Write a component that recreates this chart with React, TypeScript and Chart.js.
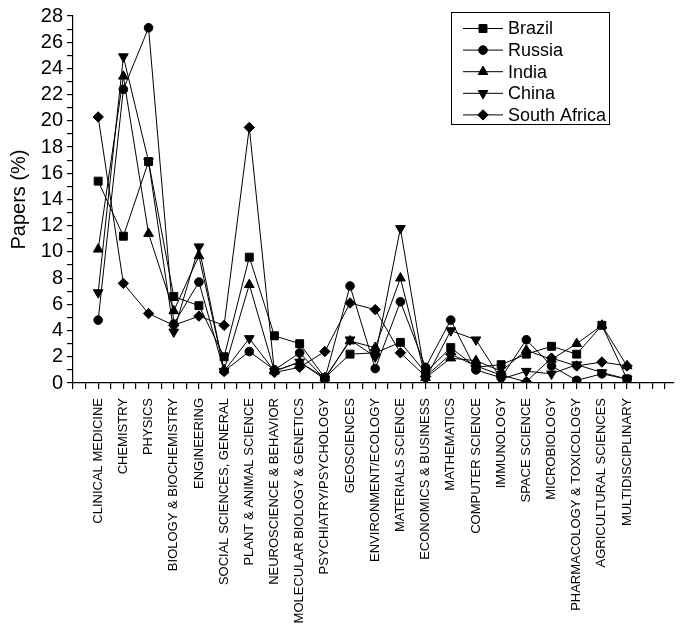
import React, { useEffect, useRef } from "react";
import { Chart, registerables } from "chart.js";
import { drawPoint } from "chart.js/helpers";

Chart.register(...registerables);

// Subject fields along the x axis
const categories = [
  "CLINICAL MEDICINE",
  "CHEMISTRY",
  "PHYSICS",
  "BIOLOGY & BIOCHEMISTRY",
  "ENGINEERING",
  "SOCIAL SCIENCES, GENERAL",
  "PLANT & ANIMAL SCIENCE",
  "NEUROSCIENCE & BEHAVIOR",
  "MOLECULAR BIOLOGY & GENETICS",
  "PSYCHIATRY/PSYCHOLOGY",
  "GEOSCIENCES",
  "ENVIRONMENT/ECOLOGY",
  "MATERIALS SCIENCE",
  "ECONOMICS & BUSINESS",
  "MATHEMATICS",
  "COMPUTER SCIENCE",
  "IMMUNOLOGY",
  "SPACE SCIENCE",
  "MICROBIOLOGY",
  "PHARMACOLOGY & TOXICOLOGY",
  "AGRICULTURAL SCIENCES",
  "MULTIDISCIPLINARY",
];

// Share of each country's papers per field (%)
const brazil = [15.4, 11.2, 16.9, 6.6, 5.9, 2.0, 9.6, 3.6, 3.0, 0.4, 2.2, 2.3, 3.1, 0.8, 2.7, 1.2, 1.4, 2.2, 2.8, 2.2, 4.4, 0.3];
const russia = [4.8, 22.4, 27.1, 4.5, 7.7, 0.9, 2.4, 1.0, 2.3, 0.3, 7.4, 1.1, 6.2, 1.2, 4.8, 1.0, 0.4, 3.3, 1.3, 0.2, 0.7, 0.3];
const india = [10.2, 23.4, 11.4, 5.5, 9.7, 1.0, 7.5, 0.9, 1.6, 0.4, 3.2, 2.7, 8.0, 0.4, 1.9, 1.7, 0.9, 2.5, 1.8, 3.0, 4.4, 1.3];
const china = [6.9, 24.9, 16.9, 3.9, 10.4, 0.9, 3.4, 0.9, 1.6, 0.3, 3.3, 2.0, 11.8, 0.3, 4.0, 3.3, 0.3, 0.9, 0.7, 1.4, 0.8, 0.3];
const southAfrica = [20.3, 7.6, 5.3, 4.4, 5.1, 4.4, 19.5, 0.8, 1.2, 2.4, 6.1, 5.6, 2.3, 0.5, 2.2, 1.3, 0.6, 0.1, 1.9, 1.3, 1.6, 1.3];

const seriesNames = ["Brazil", "Russia", "India", "China", "South Africa"];
const seriesValues = [brazil, russia, india, china, southAfrica];

// y axis: 0..28, labelled every 2
const yMin = 0;
const yMax = 28;

const FONT = "'Liberation Sans', Arial, Helvetica, sans-serif";

const markers = [
  { pointStyle: "rect", radius: 5.6, rotation: 0 },
  { pointStyle: "circle", radius: 4.3, rotation: 0 },
  { pointStyle: "triangle", radius: 5.6, rotation: 0 },
  { pointStyle: "triangle", radius: 5.6, rotation: 180 },
  { pointStyle: "rectRot", radius: 5.2, rotation: 0 },
];

// Boxed legend with a line through each marker
const boxLegend = {
  id: "boxLegend",
  afterDraw(chart: any) {
    const ctx = chart.ctx as CanvasRenderingContext2D;
    const x0 = 451.5;
    const y0 = 12.5;
    const w = 158;
    const h = 112;
    ctx.save();
    ctx.fillStyle = "#fff";
    ctx.fillRect(x0, y0, w, h);
    ctx.strokeStyle = "#000";
    ctx.lineWidth = 1;
    ctx.strokeRect(x0, y0, w, h);
    ctx.font = `18px ${FONT}`;
    ctx.textBaseline = "middle";
    ctx.textAlign = "left";
    chart.data.datasets.forEach((ds: any, i: number) => {
      const cy = 28.5 + i * 21.6;
      ctx.strokeStyle = "#000";
      ctx.lineWidth = 1;
      ctx.beginPath();
      ctx.moveTo(463, cy);
      ctx.lineTo(503, cy);
      ctx.stroke();
      ctx.fillStyle = "#000";
      const m = markers[i];
      drawPoint(ctx, { pointStyle: m.pointStyle, radius: m.radius, rotation: m.rotation, borderWidth: 1 } as any, 483, cy);
      ctx.fillStyle = "#000";
      ctx.fillText(ds.label, 508, cy + 1);
    });
    ctx.restore();
  },
};

export default function App() {
  const canvasRef = useRef<HTMLCanvasElement | null>(null);

  useEffect(() => {
    document.body.style.margin = "0";
    const canvas = canvasRef.current;
    if (!canvas) return;

    const datasets = seriesValues.map((vals, i) => ({
      label: seriesNames[i],
      data: vals.map((v, j) => ({ x: j + 1, y: v })),
      borderColor: "#000",
      backgroundColor: "#000",
      borderWidth: 1,
      pointStyle: markers[i].pointStyle,
      rotation: markers[i].rotation,
      pointRadius: markers[i].radius,
      pointBackgroundColor: "#000",
      pointBorderColor: "#000",
      pointBorderWidth: 1,
      tension: 0,
      fill: false,
    }));

    const chart = new Chart(canvas, {
      type: "line",
      data: { datasets },
      plugins: [boxLegend],
      options: {
        responsive: false,
        animation: false,
        events: [],
        layout: { padding: { top: 12, left: 0, right: 0, bottom: 0 } },
        plugins: {
          legend: { display: false },
          tooltip: { enabled: false },
        },
        scales: {
          x: {
            type: "linear",
            min: 0,
            max: 23.84,
            border: { display: true, color: "#000", width: 1.2 },
            grid: { drawOnChartArea: false, drawTicks: true, tickLength: 6, color: "#000", lineWidth: 1.2 },
            ticks: {
              stepSize: 0.5,
              includeBounds: false,
              autoSkip: false,
              minRotation: 90,
              maxRotation: 90,
              padding: 9,
              color: "#000",
              font: { family: FONT, size: 13 },
              callback: (v: any) => {
                const n = Number(v);
                const r = Math.round(n);
                if (Math.abs(n - r) < 1e-6 && r >= 1 && r <= categories.length) return categories[r - 1];
                return "";
              },
            },
            afterFit: (scale: any) => {
              scale.height = 242;
              scale.paddingLeft = 0;
              scale.paddingRight = 0;
            },
          },
          y: {
            type: "linear",
            min: yMin,
            max: yMax,
            border: { display: true, color: "#000", width: 1.2 },
            grid: { drawOnChartArea: false, drawTicks: true, tickLength: 6, color: "#000", lineWidth: 1.2 },
            ticks: {
              stepSize: 1,
              autoSkip: false,
              padding: 4,
              color: "#000",
              font: { family: FONT, size: 20 },
              callback: (v: any) => (Number(v) % 2 === 0 ? String(v) : ""),
            },
            title: {
              display: true,
              text: "Papers (%)",
              color: "#000",
              font: { family: FONT, size: 20, lineHeight: 1.2 },
              padding: { top: 7, bottom: 0 },
            },
            afterFit: (scale: any) => {
              scale.width = 73;
            },
          },
        },
      },
    });

    return () => chart.destroy();
  }, []);

  return (
    <div style={{ width: 680, height: 625, background: "#fff" }}>
      <canvas ref={canvasRef} width={680} height={625} style={{ display: "block" }} />
    </div>
  );
}
